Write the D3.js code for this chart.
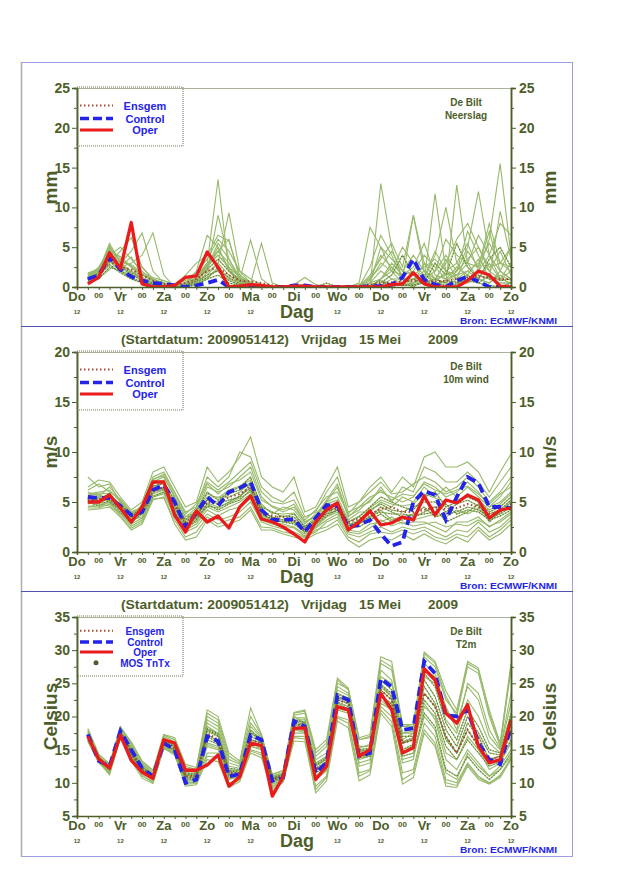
<!DOCTYPE html>
<html>
<head>
<meta charset="utf-8">
<script src="https://cdn.jsdelivr.net/npm/d3@7"></script>
<style>
body { margin: 0; background: #fff; }
svg { display: block; }
text { font-family: "Liberation Sans", Arial, sans-serif; font-weight: bold; }
</style>
</head>
<body>
<script>
// forecast hours after start (2009051412), 6-hourly
var hours = [6,12,18,24,30,36,42,48,54,60, 66,72,78,84,90,96,102,108,114,120,
             126,132,138,144,150,156,162,168,174,180, 186,192,198,204,210,216,222,228,234,240];
var dayHours = [0,24,48,72,96,120,144,168,192,216,240];
var dayLabels = ["Do","Vr","Za","Zo","Ma","Di","Wo","Do","Vr","Za","Zo"];
var nightHours = [12,36,60,84,108,132,156,180,204,228];
// the "12" under Di is hidden by "Dag"
var twelveHours = [0,24,48,72,96,144,168,192,216,240];

// ---- Neerslag (mm) ----
var rainOper = [0.4,1.2,4.3,2.3,8.1,0.4,0.0,0.0,0.2,1.2, 1.4,4.4,2.5,0.0,0.1,0.3,0.2,0.0,0.0,0.1,
                0.1,0.0,0.0,0.0,0.0,0.0,0.0,0.0,0.3,0.4, 1.8,0.4,0.0,0.0,0.0,0.8,2.0,1.5,0.1,0.0];
var rainControl = [1.0,1.5,3.7,2.2,1.3,0.8,0.5,0.4,0.2,0.0, 0.2,0.5,0.9,0.0,0.0,0.1,0.0,0.0,0.0,0.2,
                   0.2,0.0,0.0,0.0,0.0,0.0,0.1,0.1,0.3,1.2, 3.5,0.9,0.3,0.0,0.8,1.3,0.7,0.0,0.0,0.0];
var rainMean = [1.0,1.5,3.2,2.5,2.2,1.5,0.8,0.4,0.3,0.5, 1.0,2.0,2.5,1.5,0.8,0.7,0.5,0.2,0.1,0.1,
                0.2,0.1,0.1,0.1,0.1,0.1,0.3,0.5,0.6,0.7, 0.8,0.8,0.7,0.8,1.0,1.2,1.3,1.2,1.0,1.0];
var rainMembers = [
  [1.5,2.0,5.5,3.0,2.0,1.0,0.5,0.2,0.0,0.5, 1.0,3.0,13.5,2.0,0.5,0.2,0.0,0.0,0.0,0.0, 0.0,0.0,0.0,0.0,0.0,0.0,0.5,2.0,1.0,1.0, 9.0,2.0,0.5,0.5,2.0,5.0,12.0,4.0,1.0,2.0],
  [0.8,1.5,3.0,4.5,6.2,2.5,1.0,0.2,0.0,0.0, 0.5,1.5,3.0,9.3,2.0,0.5,0.0,0.0,0.0,0.2, 0.0,0.0,0.0,0.0,0.0,0.5,7.5,5.0,2.0,0.5, 0.0,1.0,4.0,10.0,3.0,1.0,2.0,6.0,15.5,4.0],
  [1.2,2.5,4.5,2.5,3.0,4.0,6.8,1.5,0.0,0.0, 0.5,2.5,5.5,3.5,1.0,5.9,1.0,0.0,0.0,0.0, 0.0,0.0,0.0,0.0,0.0,0.0,0.0,13.0,5.0,1.0, 0.5,3.0,1.0,0.5,12.8,3.0,1.0,0.5,2.0,5.0],
  [1.0,1.2,3.2,2.0,1.5,1.0,0.5,0.0,0.0,0.0, 0.5,1.0,2.5,1.0,0.5,0.5,5.5,0.5,0.0,0.0, 0.0,0.0,0.0,0.0,0.0,0.0,0.0,0.0,0.5,0.3, 0.5,0.8,11.7,2.0,0.5,0.5,1.0,3.0,1.0,0.5],
  [1.8,2.2,5.0,3.5,2.5,1.5,1.0,0.5,0.0,0.5, 2.0,6.5,5.0,2.0,1.0,0.5,0.0,0.0,0.0,0.0, 0.0,0.0,0.0,0.0,0.0,0.0,2.5,6.5,4.0,1.0, 0.5,1.0,2.0,4.0,2.0,7.0,4.0,1.0,9.5,3.5],
  [0.6,1.0,2.5,2.0,1.2,0.6,0.3,0.1,0.0,0.2, 0.8,1.5,2.0,0.8,0.3,0.2,0.1,0.0,0.0,0.0, 0.0,0.0,0.0,0.0,0.0,0.0,0.0,0.3,0.5,0.2, 0.2,0.5,1.0,0.5,0.5,1.0,1.5,1.0,0.5,0.5],
  [1.4,1.8,4.0,5.0,3.5,2.0,0.8,0.3,0.0,1.5, 3.0,4.0,6.5,5.8,1.5,0.5,0.0,0.0,0.0,0.0, 0.0,0.0,0.0,0.0,0.0,0.0,0.5,5.0,3.5,2.0, 4.0,2.0,1.0,3.0,6.0,8.0,5.0,2.0,1.0,3.0],
  [1.2,1.6,3.5,2.8,2.0,1.2,0.6,0.3,0.0,0.3, 1.2,2.0,9.0,3.5,1.2,0.6,0.1,0.0,0.0,0.3, 1.2,0.3,0.0,0.0,0.0,0.0,0.0,1.0,3.0,1.5, 2.0,4.0,2.5,1.0,1.5,3.0,2.5,7.0,2.0,1.0],
  [0.9,1.4,2.8,1.8,1.0,0.5,0.2,0.0,0.0,0.0, 0.3,1.0,1.5,0.5,0.2,0.1,0.0,0.0,0.0,0.0, 0.0,0.0,0.5,0.0,0.0,0.0,0.0,0.0,0.0,0.5, 1.0,0.5,0.5,0.2,0.3,1.5,0.5,0.2,0.0,0.5],
  [1.6,2.4,4.8,3.2,2.8,1.8,1.2,0.8,0.3,0.8, 1.8,3.5,6.0,4.5,2.0,1.0,0.3,0.0,0.0,0.0, 0.0,0.0,0.0,0.0,0.0,0.0,1.5,3.5,5.5,2.5, 9.0,3.0,2.0,6.0,4.0,3.0,6.5,4.0,8.0,6.5],
  [1.1,1.7,3.8,2.6,1.8,1.0,0.4,0.2,0.0,0.2, 0.8,2.2,3.5,2.0,0.8,0.3,0.0,0.0,0.0,0.0, 0.0,0.0,0.0,0.0,0.0,0.0,0.0,0.5,1.5,4.0, 1.5,0.5,3.0,1.5,5.5,2.5,1.0,3.5,5.0,2.5],
  [1.3,2.0,4.2,3.0,4.5,6.8,2.0,0.5,0.0,0.2, 1.0,2.8,4.0,2.5,0.5,0.2,0.0,0.0,0.0,0.0, 0.2,0.0,0.0,0.0,0.2,0.0,0.5,1.0,2.0,5.0, 3.0,1.5,0.5,2.0,1.0,4.5,2.5,8.0,3.0,5.0],
  [1.0,1.8,4.5,2.0,1.5,2.5,1.0,0.5,0.2,0.5, 1.5,3.0,4.5,6.0,1.0,0.5,0.0,0.0,0.0,0.0, 0.0,0.0,0.0,0.0,0.0,0.0,0.8,3.0,2.0,1.5, 2.5,5.5,1.5,1.0,2.5,1.5,3.5,2.0,4.5,1.5],
  [0.7,1.1,2.2,3.5,2.5,1.2,0.5,0.0,0.0,0.0, 0.4,1.8,3.0,1.5,0.5,0.2,0.0,0.0,0.0,0.0, 0.0,0.0,0.0,0.0,0.0,0.0,0.0,0.2,1.0,0.5, 0.5,1.5,0.8,3.5,1.0,2.0,1.0,0.5,1.5,0.8],
  [1.5,2.2,5.2,2.5,3.8,1.5,0.8,0.3,0.0,0.6, 1.5,2.6,4.0,2.5,1.2,0.5,0.0,0.0,0.0,0.0, 0.0,0.0,0.0,0.0,0.0,0.0,1.0,4.0,2.5,1.0, 1.0,1.2,4.5,2.0,3.0,5.5,2.0,4.0,2.0,1.0],
  [1.3,1.9,4.0,2.8,2.0,1.2,0.6,0.3,0.1,0.4, 1.2,2.5,5.0,2.2,0.7,0.3,0.0,0.0,0.0,0.0, 0.0,0.0,0.0,0.0,0.0,0.0,0.0,1.0,2.5,1.0, 1.0,2.0,1.0,1.5,2.0,3.5,5.0,2.5,3.0,2.0],
  [0.9,1.3,3.4,2.4,1.6,0.8,0.3,0.1,0.0,0.1, 0.6,1.2,2.2,1.2,0.4,0.2,0.0,0.0,0.0,0.1, 0.3,0.0,0.0,0.0,0.0,0.0,0.2,0.8,0.3,0.2, 0.3,0.6,0.4,0.8,0.6,0.8,0.5,1.5,0.8,1.0],
  [1.6,2.1,4.6,3.8,2.6,1.6,0.9,0.4,0.0,0.3, 1.0,2.4,4.5,3.0,1.0,0.4,0.0,0.0,0.0,0.0, 0.0,0.0,0.0,0.0,0.0,0.3,1.2,2.5,4.5,2.0, 1.5,2.5,3.5,2.0,1.5,2.0,3.0,5.5,3.0,2.5]
];

// ---- 10m wind (m/s) ----
var windOper = [5.0,5.0,5.7,4.4,3.0,4.5,7.0,7.0,3.7,2.0, 4.1,3.0,3.6,2.4,4.5,5.6,3.3,3.0,2.5,1.8,
                1.0,3.0,4.2,4.9,2.2,3.0,4.1,2.7,2.9,3.5, 3.2,5.6,3.7,5.2,4.9,5.7,5.2,3.4,4.2,4.4];
var windControl = [5.5,5.4,5.4,4.6,3.7,4.0,6.2,6.7,5.0,2.5, 3.9,5.5,4.6,6.0,6.4,7.0,4.2,3.2,3.2,3.3,
                   2.0,3.4,4.7,4.6,2.5,2.7,3.2,1.8,0.6,1.0, 5.0,6.1,5.7,3.2,5.5,7.5,6.9,4.5,4.5,4.4];
var windMean = [5.2,5.3,5.3,4.6,3.6,4.0,6.0,6.5,4.8,3.0, 3.8,5.0,4.8,5.5,5.8,6.5,4.0,3.6,3.5,3.2,
                2.2,3.0,4.2,4.3,3.0,3.3,3.8,4.3,4.5,4.0, 4.0,4.2,4.5,4.3,4.4,4.8,4.5,3.8,4.0,4.8];
var windMembers = [
  [6.5,7.2,7.0,5.5,4.2,5.0,8.0,8.5,6.5,4.5, 5.0,8.5,7.0,8.0,9.5,11.5,7.5,6.5,6.0,7.5, 4.0,4.5,6.5,8.5,4.5,5.0,6.5,7.5,6.0,7.5, 6.5,9.5,10.0,8.5,8.5,9.0,8.0,6.0,8.0,9.8],
  [4.2,4.3,4.5,3.5,2.2,2.8,5.2,5.5,2.8,1.2, 1.5,3.2,2.5,2.8,3.2,4.2,2.2,2.2,1.8,1.5, 1.2,1.8,2.2,2.8,1.2,0.5,1.2,1.5,1.2,1.8, 1.2,1.8,1.2,0.8,1.5,1.0,2.2,1.2,1.8,2.8],
  [5.8,6.0,6.2,5.0,4.0,4.5,7.0,7.5,5.5,3.5, 4.0,6.5,6.0,6.5,7.5,8.5,5.5,4.5,4.0,4.5, 3.0,3.5,5.0,6.5,3.5,4.5,5.5,6.0,5.5,5.0, 5.5,7.0,6.5,5.5,6.0,7.0,6.0,4.5,5.5,7.0],
  [4.8,5.0,4.9,4.2,3.2,3.5,5.8,6.2,4.2,2.5, 3.0,4.5,4.0,4.5,5.0,5.8,3.5,3.0,2.8,2.5, 1.8,2.5,3.5,4.0,2.2,2.0,2.8,3.0,3.5,2.8, 3.0,3.0,2.5,2.0,3.0,3.0,3.5,2.5,3.2,4.0],
  [5.3,5.5,5.6,4.8,3.8,4.2,6.5,7.0,5.2,3.2, 4.2,6.0,5.2,6.0,6.5,7.5,4.5,4.0,3.5,3.8, 2.5,3.2,4.5,5.0,3.0,3.5,4.5,5.5,5.0,4.5, 4.2,5.5,6.0,4.5,5.0,5.5,5.0,4.0,4.5,5.5],
  [5.0,4.6,5.2,4.0,3.0,3.8,5.5,6.0,4.8,2.8, 3.5,5.2,4.8,5.2,5.5,6.8,4.0,3.5,3.2,3.0, 2.2,2.8,4.0,4.5,2.8,3.0,3.5,4.5,4.0,3.5, 3.8,4.5,3.5,3.8,4.0,4.5,4.2,3.5,3.8,4.5],
  [7.5,6.5,6.8,5.0,3.5,4.8,7.5,8.0,6.0,4.0, 4.5,7.5,6.5,7.5,10.0,9.5,6.5,5.5,5.0,6.0, 3.5,4.0,6.0,7.5,4.0,4.5,5.0,6.5,5.0,6.5, 6.0,8.5,8.0,7.0,7.0,8.0,7.0,5.5,7.0,8.5],
  [4.5,4.8,4.6,3.8,2.6,3.2,5.5,5.8,3.5,2.0, 2.5,3.8,3.2,3.5,4.0,5.0,3.0,2.6,2.3,2.0, 1.5,2.0,3.0,3.5,1.8,1.5,2.0,2.5,2.0,2.5, 2.2,2.5,2.0,1.5,2.2,2.0,3.0,2.0,2.5,3.5],
  [5.6,5.8,5.2,4.5,3.4,4.0,6.8,7.2,4.5,3.0, 3.8,5.5,5.5,5.5,6.0,7.0,4.8,3.8,4.5,4.2, 2.8,3.8,5.0,5.5,3.2,4.0,4.0,5.0,4.5,5.5, 5.0,6.5,5.5,6.5,5.5,6.5,5.5,4.5,5.0,6.0],
  [5.1,5.2,5.9,4.4,2.8,4.3,6.3,6.5,4.0,2.2, 3.2,4.8,4.2,4.8,5.2,6.2,3.8,3.3,3.0,2.8, 2.0,3.0,3.8,4.2,2.5,2.5,3.2,3.8,3.0,3.2, 3.5,4.0,4.5,3.0,3.5,4.0,4.8,3.0,4.0,5.0],
  [6.0,5.6,6.5,5.2,3.8,4.6,7.2,7.8,5.8,3.8, 4.8,7.0,6.2,7.0,8.0,9.0,6.0,5.0,4.8,5.2, 3.2,4.2,5.5,6.0,3.8,5.0,6.0,7.0,5.8,6.0, 6.8,7.5,7.0,6.0,6.5,7.5,6.5,5.0,6.0,7.5],
  [4.6,4.5,5.0,3.6,2.4,3.0,5.3,5.4,3.2,1.5, 2.0,3.5,2.8,3.2,3.5,4.5,2.5,2.4,2.0,1.8, 1.4,2.2,2.5,3.2,1.5,1.0,1.8,2.0,1.8,2.2, 1.8,2.2,1.5,1.2,1.8,1.5,2.5,1.5,2.2,3.2],
  [5.4,5.0,5.5,4.8,3.5,3.8,6.6,6.8,4.6,2.8, 3.6,5.2,5.0,5.8,6.2,6.8,4.2,3.4,3.6,3.5, 2.4,3.2,4.4,4.8,2.6,3.2,4.2,4.8,4.2,4.0, 4.5,5.0,5.0,4.0,4.8,5.2,4.6,3.8,4.2,5.2],
  [4.9,5.4,5.0,4.3,3.1,4.1,6.0,6.3,4.4,2.6, 3.4,4.6,4.4,5.0,5.6,6.4,3.8,3.2,3.0,3.0, 2.0,2.8,3.6,4.2,2.6,2.8,3.6,4.0,3.8,3.8, 3.6,3.8,4.0,4.8,3.8,4.2,4.0,3.2,3.6,4.2],
  [6.2,6.8,6.0,5.3,4.0,4.4,7.3,7.6,5.5,3.5, 4.4,6.8,5.8,6.8,7.2,8.0,5.2,4.6,4.2,4.8, 3.0,3.6,5.2,6.8,3.6,4.2,5.2,6.2,5.2,5.8, 5.6,6.8,6.2,5.8,6.2,6.6,5.8,4.8,5.8,6.5],
  [5.2,4.8,5.4,4.4,3.3,3.9,6.2,6.4,4.2,2.4, 3.2,4.9,4.5,4.9,5.4,6.0,3.6,3.2,3.2,3.2, 2.2,2.6,3.8,4.6,2.3,2.8,3.4,4.2,3.2,3.6, 3.2,3.5,3.8,3.5,4.2,3.8,4.4,3.2,4.0,4.6],
  [5.7,5.9,5.8,4.7,3.6,4.4,6.9,7.0,5.0,3.2, 4.0,5.8,5.4,6.2,6.6,7.2,4.6,3.9,3.8,3.9, 2.6,3.4,4.8,5.2,3.0,3.6,4.4,5.2,4.8,4.6, 4.8,5.8,5.4,5.0,5.2,5.6,5.2,4.2,4.8,5.8],
  [4.4,4.4,4.8,3.9,2.8,3.4,5.6,6.0,3.8,2.2, 2.8,4.2,3.6,4.2,4.5,5.4,3.2,2.8,2.6,2.4, 1.6,2.4,3.2,3.8,2.0,1.8,2.4,3.2,2.6,3.0, 2.6,2.8,3.0,2.5,2.8,2.6,3.2,2.6,3.0,3.8]
];

// ---- T2m (Celsius) ----
var tempOper = [17.0,13.6,12.2,17.2,13.4,11.6,10.7,16.5,16.0,11.9, 11.9,12.7,14.2,9.5,10.9,16.0,15.6,8.0,10.9,18.2,
                18.3,10.5,12.5,21.5,21.0,14.0,15.0,23.5,21.0,14.5, 15.3,27.2,25.5,20.5,19.0,21.8,15.5,13.0,13.5,19.5];
var tempControl = [17.3,13.3,12.5,17.8,15.0,12.2,11.0,16.0,15.0,10.0, 10.5,17.0,16.3,11.0,11.3,17.2,16.5,10.3,10.8,19.3,
                   18.5,11.5,13.0,23.2,22.5,14.0,14.5,25.7,24.5,18.0, 18.2,28.3,26.5,20.2,20.0,21.0,16.0,13.5,12.8,18.5];
var tempMean = [17.0,13.5,12.4,17.5,14.5,12.0,10.9,16.0,15.2,11.0, 11.0,17.5,16.5,11.5,11.5,16.5,16.0,10.5,11.0,19.0,
                18.5,12.0,13.0,22.5,22.0,14.5,14.5,24.0,22.5,16.0, 16.5,23.5,21.5,17.0,14.5,18.0,15.5,13.5,14.0,17.5];
var tempMembers = [
  [18.2,14.3,12.8,18.5,16.0,13.2,11.8,17.2,16.5,12.5, 12.0,20.5,19.5,14.0,13.0,20.0,17.2,11.2,11.8,20.5, 20.8,14.5,16.0,25.5,24.0,16.5,17.0,28.5,27.5,18.5, 18.5,29.5,28.0,23.0,20.0,27.5,26.5,20.0,15.5,27.0],
  [16.2,13.1,11.2,16.7,13.3,10.7,9.9,15.2,14.2,9.5, 9.7,13.5,13.2,9.3,10.2,14.5,13.8,8.7,10.1,16.3, 16.2,8.5,10.3,19.3,18.3,10.3,11.2,20.5,18.5,9.8, 10.8,17.5,15.5,9.5,9.3,12.5,10.5,9.8,10.8,13.5],
  [17.5,14.0,12.6,18.0,15.2,12.5,11.2,16.5,15.8,11.5, 11.3,18.5,17.5,12.0,11.8,17.5,16.5,10.8,11.2,19.5, 19.5,12.5,13.5,23.5,22.8,14.8,14.5,25.0,23.0,15.0, 15.5,22.0,19.5,13.5,12.0,15.0,13.0,11.0,12.5,15.0],
  [16.6,13.3,11.8,17.0,14.0,11.5,10.5,15.6,14.8,10.5, 10.5,16.0,15.5,10.5,11.0,15.5,15.2,10.0,10.6,18.2, 17.8,11.0,12.5,21.5,21.0,13.5,14.0,23.0,22.0,16.5, 17.5,26.0,25.0,19.5,17.5,22.5,20.0,16.0,14.5,20.0],
  [17.8,13.8,12.2,17.6,15.5,12.8,11.5,16.8,15.5,12.0, 11.5,19.5,18.5,13.0,12.5,18.5,16.8,11.0,11.5,20.0, 19.0,13.5,14.5,24.5,23.5,15.5,15.5,27.0,25.5,17.5, 17.5,28.0,26.5,21.0,19.0,24.5,22.5,17.0,15.0,22.0],
  [16.8,13.5,12.0,17.3,14.3,11.8,10.8,15.9,15.0,10.8, 10.8,17.0,16.0,11.0,11.3,16.2,15.8,10.3,10.8,18.8, 18.2,11.8,12.8,22.2,21.5,14.0,14.2,23.5,21.5,14.0, 14.5,20.5,18.5,12.0,11.0,14.0,12.0,10.5,12.0,14.5],
  [17.2,13.7,12.5,17.8,14.8,12.2,11.0,16.2,15.5,11.2, 11.0,17.8,17.0,11.8,11.6,17.0,16.2,10.6,11.0,19.2, 18.8,12.2,13.2,22.8,22.3,14.3,14.8,24.5,23.0,16.0, 16.5,24.5,22.0,16.5,14.5,19.0,17.0,13.5,14.0,18.0],
  [16.5,13.2,11.5,16.8,13.8,11.0,10.2,15.4,14.5,10.0, 10.2,14.5,14.5,10.0,10.5,15.0,14.5,9.3,10.3,17.0, 17.0,9.5,11.0,20.0,19.5,11.5,12.0,21.5,20.0,11.5, 12.0,19.0,17.0,10.5,10.0,13.0,11.0,10.0,11.0,13.8],
  [17.6,14.1,12.3,18.2,15.8,13.0,11.5,17.0,16.2,12.2, 12.0,20.0,19.0,13.5,12.8,19.0,17.0,11.0,11.5,20.2, 20.5,14.0,15.5,25.0,24.2,16.5,16.8,28.0,27.0,18.8, 18.5,29.0,27.5,22.5,20.5,28.0,27.0,21.0,16.0,28.0],
  [17.0,13.6,12.2,17.5,14.6,12.0,10.9,16.0,15.0,11.0, 11.0,17.3,16.3,11.5,11.5,16.5,16.0,10.5,11.0,19.0, 18.5,12.0,13.0,22.5,22.0,14.5,14.5,24.0,22.5,16.0, 16.5,23.5,21.5,17.0,14.5,18.0,15.5,13.5,14.0,17.5],
  [16.4,13.0,11.6,17.2,14.0,11.5,10.3,15.5,14.5,10.2, 10.0,15.5,15.0,10.8,10.8,15.5,15.0,9.5,10.5,17.5, 17.5,10.5,11.8,21.0,20.5,12.5,13.0,22.0,21.0,13.0, 13.5,21.5,20.0,14.5,13.5,17.0,15.0,12.0,13.0,16.0],
  [18.0,14.3,12.9,18.4,16.2,13.3,11.9,17.3,16.8,12.8, 12.3,21.0,20.0,14.5,13.3,21.3,17.3,11.3,11.9,20.6, 21.0,15.0,16.5,25.8,24.3,16.8,17.3,29.0,28.3,18.8, 18.8,29.7,28.3,23.8,21.0,28.3,27.3,20.5,15.8,27.5],
  [17.1,13.8,12.4,17.6,14.8,12.3,11.1,16.3,15.3,11.3, 11.2,18.0,17.2,11.8,11.8,17.8,16.5,10.8,11.3,19.5, 19.0,12.8,13.8,23.0,22.5,15.0,15.2,25.5,24.0,17.0, 17.0,26.5,24.5,19.0,16.5,21.0,18.5,15.0,14.5,20.5],
  [16.9,13.4,12.1,17.4,14.2,11.8,10.6,15.8,14.8,10.6, 10.6,16.5,15.8,11.2,11.2,16.0,15.5,10.2,10.7,18.5, 18.0,11.5,12.5,22.0,21.2,13.8,14.0,23.2,21.8,15.0, 15.8,22.5,20.5,15.5,13.5,16.5,14.5,12.5,13.2,16.5],
  [17.4,13.9,12.7,17.9,15.4,12.6,11.3,16.7,15.9,11.8, 11.6,19.0,18.0,12.5,12.2,18.0,16.6,10.9,11.3,19.8, 19.8,13.0,14.0,24.0,23.2,15.2,15.8,26.0,25.0,17.5, 17.8,27.0,26.0,21.5,18.0,25.0,23.5,18.0,15.2,23.5],
  [16.7,13.3,11.9,17.1,14.2,11.6,10.5,15.7,14.9,10.4, 10.4,15.8,15.2,10.6,10.9,15.8,15.4,9.8,10.5,18.0, 17.6,10.8,12.0,21.2,20.8,13.0,13.5,22.5,21.0,13.5, 14.0,20.0,18.0,11.5,10.5,14.5,12.5,11.0,12.0,14.0],
  [17.3,13.7,12.4,17.7,15.0,12.4,11.1,16.4,15.6,11.5, 11.4,18.2,17.4,12.2,12.0,17.5,16.4,10.7,11.2,19.4, 19.2,12.6,13.6,23.4,22.6,14.8,15.0,24.8,23.5,16.2, 16.8,25.5,23.0,18.0,15.5,20.0,17.5,14.5,14.2,19.0],
  [16.3,13.2,11.4,16.9,13.6,11.2,10.0,15.3,14.4,9.8, 9.9,14.0,13.8,9.8,10.4,14.8,14.2,9.0,10.2,16.8, 16.6,9.0,10.8,19.8,19.0,11.0,11.8,21.0,19.2,10.5, 11.5,18.0,16.0,10.0,9.6,12.8,10.8,9.9,11.2,13.6]
];

var ink = "#4e5e2a";
var blue = "#2424e8";
var red = "#e81c1c";
var memberColor = "#97b96a";
var stipple = "#5d7732";

var svg = d3.select("body").append("svg").attr("width", 640).attr("height", 880);

// outer frame and panel separators
svg.append("rect").attr("x", 21.5).attr("y", 62.5).attr("width", 551).attr("height", 794)
   .attr("fill", "none").attr("stroke", "#3b3bd0").attr("stroke-dasharray", "1,1");
svg.append("line").attr("x1", 21.5).attr("x2", 21.5).attr("y1", 62).attr("y2", 857)
   .attr("stroke", "#a9b0a6").attr("stroke-width", 1.5);
[326.5, 591.5].forEach(function(yy) {
  svg.append("line").attr("x1", 21).attr("x2", 573).attr("y1", yy).attr("y2", yy)
     .attr("stroke", "#5050b0").attr("stroke-width", 1);
});

var xScale = d3.scaleLinear().domain([0, 240]).range([77, 511]);

function drawPanel(p) {
  var yScale = d3.scaleLinear().domain(p.domain).range([p.bottom, p.top]);
  var g = svg.append("g");

  g.append("clipPath").attr("id", "clip" + p.id)
    .append("rect").attr("x", 77).attr("y", p.top - 2).attr("width", 434).attr("height", p.bottom - p.top + 2);

  // top border of plot
  g.append("line").attr("x1", 77).attr("x2", 511).attr("y1", p.top + 0.5).attr("y2", p.top + 0.5)
   .attr("stroke", "#a8b298").attr("stroke-width", 1);

  var line = d3.line()
    .x(function(d, i) { return xScale(hours[i]); })
    .y(function(d) { return yScale(d); });

  var plot = g.append("g").attr("clip-path", "url(#clip" + p.id + ")");
  plot.selectAll("path.member").data(p.members).enter().append("path")
    .attr("class", "member")
    .attr("d", line)
    .attr("fill", "none")
    .attr("stroke", memberColor)
    .attr("stroke-width", 1.1);
  // dark speckle where the plume is densest
  plot.selectAll("path.dense").data(p.dense).enter().append("path")
    .attr("class", "dense")
    .attr("d", function(k) { return line(p.members[k]); })
    .attr("fill", "none")
    .attr("stroke", stipple)
    .attr("stroke-width", 1.2)
    .attr("stroke-dasharray", "1,2");

  plot.append("path").attr("d", line(p.mean)).attr("fill", "none")
    .attr("stroke", "#a34a30").attr("stroke-width", 2).attr("stroke-dasharray", "1.5,2.5");
  plot.append("path").attr("d", line(p.control)).attr("fill", "none")
    .attr("stroke", blue).attr("stroke-width", 3.8).attr("stroke-dasharray", "9,5");
  plot.append("path").attr("d", line(p.oper)).attr("fill", "none")
    .attr("stroke", red).attr("stroke-width", 3.3).attr("stroke-linejoin", "round");

  // y axes
  g.append("g").attr("transform", "translate(77,0)")
    .call(d3.axisLeft(yScale).tickValues(p.ticks).tickSize(5).tickPadding(2));
  g.append("g").attr("transform", "translate(511,0)")
    .call(d3.axisRight(yScale).tickValues(p.ticks).tickSize(5).tickPadding(3));
  g.append("g").attr("transform", "translate(77,0)")
    .call(d3.axisLeft(yScale).tickValues(p.minor).tickSize(3).tickFormat(""));
  g.append("g").attr("transform", "translate(511,0)")
    .call(d3.axisRight(yScale).tickValues(p.minor).tickSize(3).tickFormat(""));

  // x axis
  g.append("g").attr("transform", "translate(0," + p.bottom + ")")
    .call(d3.axisBottom(xScale).tickValues([0].concat(hours)).tickSize(3).tickFormat(""));

  g.selectAll(".domain").attr("stroke", ink).attr("stroke-width", 1.5);
  g.selectAll(".tick line").attr("stroke", ink);
  g.selectAll(".tick text").attr("fill", ink).style("font-size", "14px")
    .style("font-family", "'Liberation Sans', Arial, sans-serif").style("font-weight", "bold");

  // day labels
  g.selectAll("text.day").data(dayHours).enter().append("text")
    .attr("x", function(d) { return xScale(d); })
    .attr("y", p.bottom + 14)
    .attr("text-anchor", "middle").attr("fill", ink).style("font-size", "13px")
    .text(function(d, i) { return dayLabels[i]; });
  g.selectAll("text.night").data(nightHours).enter().append("text")
    .attr("x", function(d) { return xScale(d); })
    .attr("y", p.bottom + 11)
    .attr("text-anchor", "middle").attr("fill", ink).style("font-size", "8px")
    .text("00");
  g.selectAll("text.twelve").data(twelveHours).enter().append("text")
    .attr("x", function(d) { return xScale(d); })
    .attr("y", p.bottom + 26.5)
    .attr("text-anchor", "middle").attr("fill", ink).style("font-size", "6px")
    .text("12");
  g.append("text").attr("x", 297).attr("y", p.bottom + 31).attr("text-anchor", "middle")
    .attr("fill", ink).style("font-size", "18px").text("Dag");

  // y titles
  var mid = (p.top + p.bottom) / 2;
  g.append("text").attr("transform", "translate(57," + mid + ") rotate(-90)")
    .attr("text-anchor", "middle").attr("fill", ink).style("font-size", "19px").text(p.unit);
  g.append("text").attr("transform", "translate(556," + mid + ") rotate(-90)")
    .attr("text-anchor", "middle").attr("fill", ink).style("font-size", "19px").text(p.unit);

  // station text
  g.append("text").attr("x", 466).attr("y", p.top + 18).attr("text-anchor", "middle")
    .attr("fill", ink).style("font-size", "10px").text("De Bilt");
  g.append("text").attr("x", 466).attr("y", p.top + 31).attr("text-anchor", "middle")
    .attr("fill", ink).style("font-size", "10px").text(p.name);

  // source
  g.append("text").attr("x", 460).attr("y", p.bottom + 36.5).attr("fill", blue)
    .style("font-size", "9.5px").attr("textLength", 97).attr("lengthAdjust", "spacingAndGlyphs")
    .text("Bron: ECMWF/KNMI");

  // title
  if (p.title) {
    var t = p.top - 8;
    [["(Startdatum: 2009051412)", 121, 168], ["Vrijdag", 301, 46], ["15 Mei", 359, 42], ["2009", 428, 30]]
      .forEach(function(s) {
        g.append("text").attr("x", s[1]).attr("y", t).attr("fill", ink).style("font-size", "13px")
          .attr("textLength", s[2]).attr("lengthAdjust", "spacingAndGlyphs").text(s[0]);
      });
  }

  // legend
  var rows = p.mos ? [13.7, 25, 35, 45.7] : [17.5, 30.5, 42];
  var boxH = p.mos ? 60 : 59;
  var fs = p.mos ? "10px" : "11px";
  g.append("rect").attr("x", 77).attr("y", p.top - 1).attr("width", 106).attr("height", boxH)
    .attr("fill", "none").attr("stroke", "#6e7a50").attr("stroke-dasharray", "1,1");
  var items = [
    { label: "Ensgem", stroke: "#a34a30", w: 2, dash: "1.5,2.5" },
    { label: "Control", stroke: blue, w: 3.5, dash: "9,4" },
    { label: "Oper", stroke: red, w: 3, dash: null }
  ];
  items.forEach(function(it, i) {
    var yy = p.top + rows[i];
    g.append("line").attr("x1", 80).attr("x2", 113).attr("y1", yy).attr("y2", yy)
      .attr("stroke", it.stroke).attr("stroke-width", it.w).attr("stroke-dasharray", it.dash);
    g.append("text").attr("x", 145).attr("y", yy + 4).attr("text-anchor", "middle")
      .attr("fill", blue).style("font-size", fs).text(it.label);
  });
  if (p.mos) {
    var ym = p.top + rows[3];
    g.append("circle").attr("cx", 96).attr("cy", ym).attr("r", 2.5).attr("fill", "#5b5a30");
    g.append("text").attr("x", 145).attr("y", ym + 4).attr("text-anchor", "middle")
      .attr("fill", blue).style("font-size", fs).text("MOS TnTx");
  }
}

drawPanel({ id: 1, top: 88, bottom: 287, domain: [0, 25], ticks: [0, 5, 10, 15, 20, 25],
  minor: [2.5, 7.5, 12.5, 17.5, 22.5], unit: "mm", name: "Neerslag", title: false, mos: false,
  members: rainMembers, dense: [5, 8, 10, 16], mean: rainMean, control: rainControl, oper: rainOper });
drawPanel({ id: 2, top: 352, bottom: 552, domain: [0, 20], ticks: [0, 5, 10, 15, 20],
  minor: [2.5, 7.5, 12.5, 17.5], unit: "m/s", name: "10m wind", title: true, mos: false,
  members: windMembers, dense: [4, 5, 9, 12, 13], mean: windMean, control: windControl, oper: windOper });
drawPanel({ id: 3, top: 617, bottom: 816, domain: [5, 35], ticks: [5, 10, 15, 20, 25, 30, 35],
  minor: [7.5, 12.5, 17.5, 22.5, 27.5, 32.5], unit: "Celsius", name: "T2m", title: true, mos: true,
  members: tempMembers, dense: [5, 6, 9, 12, 13, 16], mean: tempMean, control: tempControl, oper: tempOper });
</script>
</body>
</html>
